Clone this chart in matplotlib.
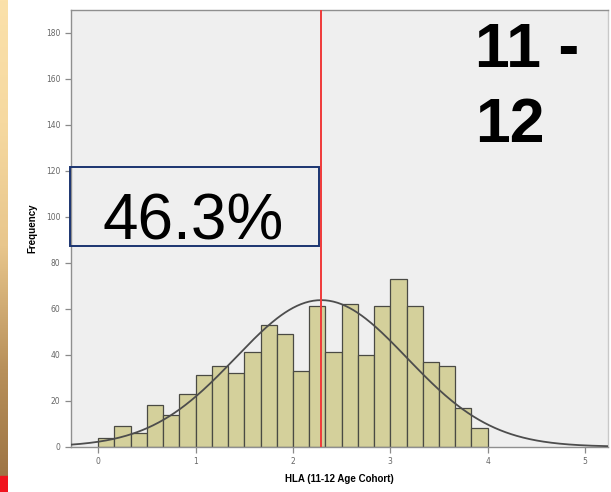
import numpy as np
import matplotlib
matplotlib.use("Agg")
import matplotlib.pyplot as plt
from matplotlib.colors import LinearSegmentedColormap
from matplotlib.patches import Rectangle

# Histogram of HLA scores, 11-12 age cohort (bins of width 1/6 from 0 to 4)
bin_edges = np.linspace(0, 4, 25)
counts = [4, 9, 6, 18, 14, 23, 31, 35, 32, 41, 53, 49,
          33, 61, 41, 62, 40, 61, 73, 61, 37, 35, 17, 8]
mean_hla = 2.29
sd_hla = 0.88
share_label = "46.3%"
cohort_lines = ["11 -", "12"]
x_ticks = [0, 1, 2, 3, 4, 5]
y_ticks = list(range(0, 181, 20))

W, H = 611, 492
fig = plt.figure(figsize=(W / 100, H / 100), dpi=100)
fig.patch.set_facecolor("white")

# decorative strip at the far left
strip = fig.add_axes([0, 0, 8 / W, 1])
cmap = LinearSegmentedColormap.from_list(
    "wood", ["#fbe1aa", "#f6d9a0", "#e8c68c", "#b8905a", "#9a7142"])
strip.imshow(np.linspace(0, 1, 256).reshape(-1, 1), aspect="auto",
             cmap=cmap, extent=[0, 1, 0, 1], origin="upper")
strip.add_patch(Rectangle((0, 0), 1, 16 / H, color="#f0141e"))
strip.set_xlim(0, 1)
strip.set_ylim(0, 1)
strip.axis("off")

ax = fig.add_axes([71 / W, (H - 446.7) / H, (608 - 71) / W, (446.7 - 10) / H])
ax.set_facecolor("#efefef")

widths = np.diff(bin_edges)
ax.bar(bin_edges[:-1], counts, width=widths, align="edge",
       color="#d4d09b", edgecolor="#4a4a44", linewidth=0.9, zorder=2)

xlim = (-0.28, 5.236)
xs = np.linspace(xlim[0], xlim[1], 400)
n_total = sum(counts)
bw = widths[0]
curve = n_total * bw / (sd_hla * np.sqrt(2 * np.pi)) * np.exp(-0.5 * ((xs - mean_hla) / sd_hla) ** 2)
ax.plot(xs, curve, color="#4d4d4d", linewidth=1.3, zorder=3)

ax.axvline(mean_hla, color="#f03a3a", linewidth=1.4, zorder=4)

ax.set_xlim(*xlim)
ax.set_ylim(0, 190)
ax.set_xticks(x_ticks)
ax.set_yticks(y_ticks)
ax.tick_params(axis="both", colors="#8a8a8a", labelcolor="#666666",
               labelsize=5.5, length=4, width=0.9, direction="out")
for side in ["left", "bottom", "top", "right"]:
    ax.spines[side].set_color("#8f8f8f")
    ax.spines[side].set_linewidth(1.0)
ax.spines["right"].set_color("#c8c8c8")

ax.set_xlabel("HLA (11-12 Age Cohort)", fontsize=7, fontweight="bold",
              family="Liberation Sans", labelpad=6)
ax.set_ylabel("Frequency", fontsize=7, fontweight="bold",
              family="Liberation Sans", labelpad=6)

# boxed share annotation
fig.patches.append(Rectangle((70 / W, (H - 245.7) / H), (319.3 - 70) / W,
                             (245.7 - 167.3) / H, transform=fig.transFigure,
                             fill=False, edgecolor="#1b3470", linewidth=1.4,
                             zorder=5))
fig.text(193 / W, (H - 240) / H, share_label, fontsize=46,
         family="Liberation Sans", ha="center", va="baseline", color="black")

# cohort title in the upper right
fig.text(475 / W, (H - 66.7) / H, cohort_lines[0], fontsize=45,
         fontweight="bold", family="Liberation Sans", ha="left",
         va="baseline", color="black")
fig.text(475 / W, (H - 141.7) / H, cohort_lines[1], fontsize=45,
         fontweight="bold", family="Liberation Sans", ha="left",
         va="baseline", color="black")

fig.savefig("out.png", dpi=100)
